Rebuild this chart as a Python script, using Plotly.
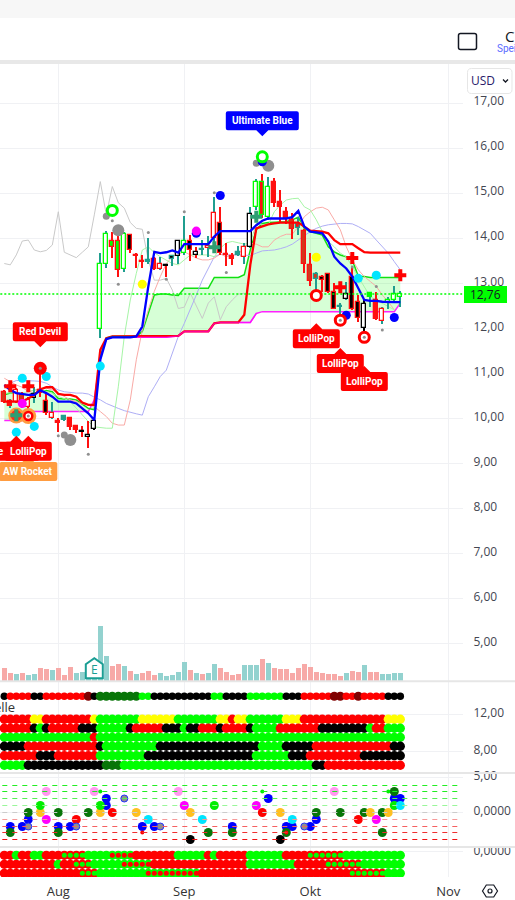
import plotly.graph_objects as go

# bars are numbered 0..66, month ticks fall on these bar numbers
month_ticks = [9, 30, 51, 74]
month_labels = ['Aug', 'Sep', 'Okt', 'Nov']
last_price = 12.76

highs = [10.63, 10.44, 10.67, 10.59, 10.48, 10.70, 11.22, 10.56, 10.37, 10.00, 10.07, 10.04, 9.85, 9.82, 9.93, 9.98,
         13.67, 14.17, 14.15, 14.07, 14.13, 14.10, 13.68, 13.63, 14.00, 13.58, 13.58, 13.44, 13.63, 13.96, 14.50, 14.07,
         13.81, 13.96, 14.04, 14.91, 14.69, 13.89, 13.67, 13.83, 13.89, 14.70, 15.31, 15.43, 15.36, 15.33, 15.07, 14.70,
         14.56, 14.48, 14.20, 13.67, 13.26, 13.19, 13.22, 13.00, 12.56, 13.04, 13.37, 12.74, 12.63, 12.81, 12.81, 12.48,
         12.70, 12.93, 12.84]
body_tops = [10.59, 10.39, 10.62, 10.52, 10.41, 10.54, 10.64, 10.39, 10.11, 9.94, 10.05, 10.00, 9.83, 9.71, 9.64, 9.93,
             13.42, 14.09, 13.93, 13.93, 14.10, 14.08, 13.62, 13.50, 13.51, 13.54, 13.42, 13.40, 13.61, 13.93, 13.93, 13.93,
             13.70, 13.76, 13.83, 14.57, 14.35, 13.65, 13.61, 13.70, 13.80, 14.53, 15.24, 15.26, 15.13, 15.24, 14.81, 14.59,
             14.41, 14.32, 14.16, 13.40, 13.20, 13.13, 13.20, 12.81, 12.50, 12.76, 13.13, 12.58, 12.53, 12.78, 12.64, 12.44,
             12.63, 12.76, 12.76]
body_bots = [10.37, 10.27, 10.37, 10.30, 10.26, 10.46, 10.56, 10.11, 10.00, 9.89, 9.96, 9.80, 9.74, 9.70, 9.58, 9.76,
             11.99, 13.44, 13.80, 13.30, 13.31, 13.74, 13.61, 13.48, 13.47, 13.31, 13.31, 13.39, 13.53, 13.61, 13.68, 13.74,
             13.64, 13.73, 13.78, 14.00, 13.67, 13.64, 13.55, 13.64, 13.59, 13.80, 14.70, 14.52, 14.47, 14.79, 14.69, 14.44,
             14.20, 14.22, 13.42, 13.06, 13.09, 13.07, 12.81, 12.44, 12.47, 12.66, 12.44, 12.22, 12.00, 12.69, 12.20, 12.17,
             12.56, 12.62, 12.70]
lows = [10.33, 10.22, 10.33, 10.22, 10.19, 10.33, 10.48, 10.07, 9.98, 9.70, 9.93, 9.73, 9.67, 9.59, 9.33, 9.74,
        11.78, 13.33, 13.56, 13.15, 13.26, 13.68, 13.33, 13.35, 13.44, 13.30, 13.30, 13.15, 13.39, 13.44, 13.63, 13.50,
        13.56, 13.63, 13.59, 13.89, 13.63, 13.39, 13.41, 13.61, 13.44, 13.78, 14.63, 14.44, 14.41, 14.70, 14.37, 14.32,
        13.98, 14.07, 13.22, 12.93, 12.85, 12.81, 12.79, 12.42, 12.30, 12.63, 12.41, 12.15, 11.93, 12.48, 12.18, 12.10,
        12.42, 12.56, 12.48]
# candle look, one letter per bar: t=teal r=red d=dark red k=black g=green w=white/hollow
candle_fill = "drwdwwrkwr" "trrkwwwwgg" "wkrrtrwkkw" "wkwtwwkrrt" "wwwrwrrrdr" "dddkkktwkk" "wgrwwww"
candle_edge = "rrrrrkrrrr" "trrkkkggrr" "grrrtrrktk" "grktrrrrrt" "rkgggrrrrt" "rrtrrrtkrr" "kgrrggg"
wick_color = "rtrrrtrrtr" "trrrrkttrr" "trrrtrtrtt" "trrtttrrrt" "tttrtrrrrt" "rrtrrrttrr" "ktrtttt"

volumes = [13, 8, 7, 8, 6, 7, 13, 12, 11, 13, 6, 14, 8, 9, 10, 14, 55, 25, 15, 17, 15, 10, 7, 8, 10, 6, 8, 5, 6, 9, 19,
           11, 8, 7, 8, 17, 13, 9, 6, 7, 16, 16, 16, 22, 18, 13, 12, 12, 8, 13, 17, 14, 9, 8, 7, 7, 5, 8, 10, 9, 16, 9,
           9, 7, 7, 8, 8]
volume_side = "rrtrttrrtr" "rrttttttrr" "trtrrrtttt" "trtrttrrrr" "ttt" "rtrrrrrrrrrrrrtrrtrrtttt"

blue_line = [10.74, 10.63, 10.56, 10.54, 10.52, 10.52, 10.62, 10.56, 10.48, 10.37, 10.37, 10.37, 10.33, 10.22, 10.11, 9.96,
             11.30, 11.76, 11.80, 11.80, 11.80, 11.80, 11.82, 12.04, 12.93, 13.70, 13.67, 13.69, 13.73, 13.68, 13.87, 13.87,
             13.87, 13.87, 13.87, 14.04, 14.16, 14.16, 14.16, 14.16, 14.16, 14.16, 14.29, 14.39, 14.44, 14.44, 14.44, 14.44,
             14.47, 14.61, 14.26, 14.15, 14.13, 14.11, 13.93, 13.59, 13.44, 13.33, 13.15, 12.89, 12.63, 12.61, 12.61, 12.59,
             12.58, 12.58, 12.58]
red_line = [10.37, 10.37, 10.37, 10.37, 10.44, 10.52, 10.64, 10.69, 10.69, 10.54, 10.52, 10.52, 10.48, 10.35, 10.30, 10.30,
            11.52, 11.78, 11.82, 11.82, 11.82, 11.82, 11.82, 11.82, 11.82, 11.82, 11.82, 11.82, 11.82, 11.83, 11.93, 11.93,
            11.93, 11.93, 11.93, 12.11, 12.13, 12.13, 12.13, 12.13, 12.30, 13.41, 14.22, 14.27, 14.31, 14.33, 14.35, 14.35,
            14.35, 14.35, 14.26, 14.17, 14.16, 14.15, 14.11, 13.96, 13.87, 13.87, 13.87, 13.78, 13.69, 13.68, 13.68, 13.68,
            13.68, 13.68, 13.68]
cloud_top = [10.52, 10.56, 10.56, 10.54, 10.52, 10.56, 10.59, 10.62, 10.59, 10.44, 10.43, 10.43, 10.41, 10.32, 10.22, 10.19,
             11.37, 11.78, 11.82, 11.82, 11.82, 11.82, 11.82, 11.93, 12.33, 12.74, 12.76, 12.76, 12.74, 12.73, 12.89, 12.89,
             12.89, 12.89, 12.89, 13.13, 13.13, 13.13, 13.13, 13.13, 13.19, 13.74, 14.19, 14.33, 14.35, 14.36, 14.37, 14.37,
             14.41, 14.47, 14.22, 14.15, 14.11, 14.07, 13.81, 13.70, 13.63, 13.59, 13.52, 13.15, 13.15, 13.13, 13.13, 13.13,
             13.13, 13.13, 13.13]
cloud_bot = [9.95, 9.95, 9.95, 9.95, 10.15, 10.15, 10.15, 10.15, 10.15, 10.15, 10.15, 10.15, 10.15, 10.15, 10.15, 10.41,
             11.37, 11.76, 11.80, 11.80, 11.80, 11.80, 11.80, 11.80, 11.80, 11.80, 11.80, 11.80, 11.82, 11.83, 11.93, 11.93,
             11.93, 11.93, 11.93, 12.11, 12.13, 12.13, 12.13, 12.13, 12.13, 12.13, 12.33, 12.37, 12.37, 12.37, 12.37, 12.37,
             12.37, 12.37, 12.37, 12.37, 12.37, 12.37, 12.37, 12.37, 12.37, 12.37, 12.37, 12.37, 12.37, 12.37, 12.37, 12.37,
             12.37, 12.37, 12.56]
pale_green = [10.56, 10.56, 10.56, 10.57, 10.59, 10.63, 10.63, 10.59, 10.56, 10.48, 10.44, 10.37, 10.22, 10.07, 9.93, 9.81,
              9.79, 9.78, 9.78, 10.70, 11.82, 12.63, 13.22, 13.74, 13.81, 13.68, 13.59, 13.52, 13.44, 13.41, 13.52, 13.63,
              13.63, 13.63, 13.63, 13.59, 13.78, 13.90, 13.93, 13.90, 13.87, 13.89, 14.33, 14.30, 14.30, 14.59, 14.74, 14.85,
              14.88, 14.89, 14.70, 14.63, 14.41, 14.15, 13.93, 13.81, 13.67, 13.59, 13.37, 13.15, 12.93, 12.70, 12.63, 12.56,
              12.48, 12.41]
pale_red = [10.89, 10.82, 10.74, 10.69, 10.59, 10.62, 10.67, 10.67, 10.63, 10.56, 10.48, 10.41, 10.37, 10.32, 10.30, 10.26,
            10.15, 10.04, 9.89, 9.85, 9.85, 10.41, 11.30, 11.96, 12.41, 12.82, 13.15, 13.44, 13.59, 13.65, 13.70, 13.63,
            13.56, 13.52, 13.52, 13.56, 13.65, 13.59, 13.63, 13.64, 13.81, 13.89, 13.87, 13.81, 13.81, 13.96, 14.04, 14.09,
            14.09, 14.26, 14.48, 14.59, 14.67, 14.69, 14.63, 14.41, 14.19, 13.81, 13.52, 13.30, 13.15, 13.04, 12.93, 12.74,
            12.59, 12.41]
pale_blue = [10.70, 10.78, 10.84, 10.84, 10.84, 10.83, 10.82, 10.78, 10.70, 10.63, 10.59, 10.57, 10.56, 10.56, 10.54, 10.47,
             10.41, 10.33, 10.27, 10.22, 10.17, 10.13, 10.10, 10.07, 10.48, 10.70, 10.93, 11.07, 11.44, 11.82, 12.11, 12.41,
             12.74, 13.07, 13.33, 13.59, 13.65, 13.63, 13.63, 13.63, 13.62, 13.62, 13.67, 13.72, 13.73, 13.74, 13.77, 13.81,
             13.87, 13.96, 14.07, 14.15, 14.22, 14.27, 14.30, 14.32, 14.33, 14.33, 14.32, 14.26, 14.19, 14.11, 13.96, 13.81,
             13.67, 13.48, 13.30]
grey_line = [13.44, 13.41, 13.63, 13.94, 13.96, 13.74, 13.70, 13.73, 13.85, 14.59, 13.69, 13.63, 13.57, 13.69, 13.81, 14.52,
             15.26, 14.52, 15.15, 14.79, 14.67, 14.35, 14.22, 14.20, 13.52, 13.07, 13.07, 13.11, 12.85, 12.44, 12.47, 12.78,
             12.48, 12.22, 12.56, 12.70, 12.19, 12.48, 12.63, 12.76, 12.78]

# signal marks on the price pane
cyan_x = [16, 3, 7, 2, 5, 59, 62]
cyan_y = [11.16, 10.89, 10.93, 9.69, 9.82, 13.11, 13.18]
yellow_x = [23, 52]
yellow_y = [12.98, 13.58]
blue_x = [36, 32, 43, 57, 65]
blue_y = [14.95, 14.11, 15.70, 12.29, 12.24]
magenta_x = [32, 3]
magenta_y = [14.16, 10.33]
cross_red_x = [1, 4, 58, 56, 66]
cross_red_y = [10.71, 10.71, 13.56, 12.91, 13.18]
cross_green_x = [35, 42, 2]
cross_green_y = [13.80, 14.48, 10.07]
orange_x = [2, 4]
orange_y = [10.06, 10.05]
green_ring_x = [18, 43]
green_ring_y = [14.62, 15.81]
red_ring_x = [52, 56, 60]
red_ring_y = [12.73, 12.18, 11.80]
small_ring_x = [4]
small_ring_y = [10.05]
red_dot_x = [2]
red_dot_y = [10.06]
red_big_x = [6]
red_big_y = [11.11]
grey_big_x = [19, 11, 44]
grey_big_y = [14.18, 9.52, 15.61]
grey_mid_x = [17, 10, 42]
grey_mid_y = [14.49, 9.63, 15.67]
grey_small_x = [18, 19, 24, 27, 30, 35, 37, 14, 9, 58, 62, 63, 6, 56, 60, 4]
grey_small_y = [14.39, 12.98, 14.13, 13.09, 14.59, 15.01, 13.24, 9.20, 9.61, 13.36, 12.93, 11.96, 11.11, 12.18, 11.80, 10.05]

# state rows under the price pane, one letter per bar
row_values = [11.46, 10.49, 9.51, 8.54, 7.52, 6.49]
top_row_value = 13.95
top_row = "k" + "rrrr" + "kk" + "r" * 7 + "D" + "k" + "G" * 7 + "gg" + "k" * 10 + "gg" + "kkkk" + "g" * 6 + "kkk" + "r" * 5 + "DD" + "rr" + "D" + "rrrr" + "kkk"
state_rows = [
    "r" * 5 + "yy" + "r" * 8 + "y" + "g" * 7 + "y" * 6 + "g" * 7 + "yy" + "r" + "yy" + "g" * 6 + "yyy" + "r" * 14 + "yyy",
    "r" * 5 + "k" + "g" + "k" + "r" * 5 + "kkk" + "g" * 5 + "k" + "r" * 5 + "kkk" + "g" + "kk" + "rrr" + "k" + "rrrr" + "k" + "gggg" + "r" * 7 + "k" * 8 + "g" + "rr" + "ggg",
    "g" * 15 + "r" + "g" * 51,
    "kkkk" + "r" * 12 + "k" + "g" * 9 + "k" * 17 + "gggg" + "kkkkk" + "r" * 13 + "kk",
    "r" * 6 + "kkk" + "r" * 7 + "g" * 8 + "k" * 18 + "g" * 6 + "kkk" + "r" * 9 + "k" * 7,
    "gggg" + "k" * 13 + "GGG" + "g" * 32 + "kk" + "r" * 13,
]
# bottom pane, a = small green on red, b = small red on green
bottom_values = [-0.40, -1.40, -2.40]
bottom_rows = [
    "rr" + "g" + "rr" + "gg" + "rrr" + "aaaa" + "gggg" + "bbbb" + "r" * 7 + "g" * 5 + "r" + "g" + "r" * 5 + "g" * 6 + "rrrr" + "a" * 6 + "g" * 10,
    "r" * 9 + "g" + "rr" + "aaa" + "g" * 5 + "b" * 5 + "r" * 16 + "g" * 8 + "r" * 5 + "a" * 6 + "g" * 7,
    "r" * 13 + "aaa" + "g" * 8 + "b" * 9 + "r" * 25 + "a" * 6 + "ggg",
]

# oscillator pane
levels = [3.857, 3, 2, 1, 0, -1, -2, -2.857, -3.857]
level_colors = ['#22ee22', '#22ee22', '#55f055', '#99f799', '#cccccc', '#f79999', '#f56060', '#f03030', '#f01010']
osc_blue_x = [1, 3, 4, 9, 11, 17, 17, 23, 25, 38, 44, 47, 48, 51, 52, 65, 66]
osc_blue_y = [-2, -2, -1, -2, -2, 2, 1, -2, -2, -2, 2, -2, -2, -2, -1, 2, 2]
osc_dkgreen_x = [1, 4, 9, 9, 14, 34, 38, 47, 52, 56, 60, 63, 63, 65]
osc_dkgreen_y = [-2.857, 0, 0, -2.857, 0, -2.857, -2.857, -2.857, 0, 0, 0, 0, -2.857, 3]
osc_gold_x = [6, 16, 22, 31, 46, 61, 64]
osc_gold_y = [0, 0, 0, 0, 0, 0, 0]
osc_green_x = [6, 16, 35, 65]
osc_green_y = [1, 1, 1, 1]
osc_pink_x = [7, 15, 29, 55]
osc_pink_y = [3, 3, 3, 3]
osc_magenta_x = [7, 30, 42, 62]
osc_magenta_y = [-1, 1, 1, -1]
osc_red_x = [12, 18, 43, 59]
osc_red_y = [-1, 0, 0, -1]
osc_cyan_x = [24, 33, 48, 66]
osc_cyan_y = [-1, -1, -1, 1]
osc_black_x = [31, 46]
osc_black_y = [-3.857, -3.857]
osc_grey_x = [4, 12, 20, 26, 50]
osc_grey_y = [-2, -2, 2, -2, -2]
osc_small_green_x = [16, 43, 64]
osc_small_green_y = [3, 3, 3]
osc_small_red_x = [23, 47]
osc_small_red_y = [-2.857, -2.857]

# pixel layout of the page
W, H = 515, 900
PLOT_RIGHT = 462.5
X0, BAR = 4.3, 6.0


def paper_x(px):
    return px / W


def paper_y(py):
    return 1 - py / H


def pt(px, py):
    return f"{paper_x(px):.5f},{paper_y(py):.5f}"


def dom(top, bottom):
    return [paper_y(bottom), paper_y(top)]


bars = list(range(67))
TEAL, RED, GREEN = '#1f9e8f', '#ff1010', '#00ff00'
candle_colors = {'r': RED, 'd': '#cf3a1c', 't': TEAL, 'k': '#000000', 'g': GREEN, 'w': '#ffffff'}
state_colors = {'r': '#ff0000', 'g': '#00ff00', 'k': '#000000', 'y': '#ffff00', 'D': '#800000', 'G': '#087508',
                'a': '#ff0000', 'b': '#00ff00'}

fig = go.Figure()

# base layer of the price pane: cloud and thin lines
fig.add_trace(go.Scatter(x=bars, y=cloud_bot, mode='lines', line=dict(color='#ff22ff', width=1.5), yaxis='y'))
fig.add_trace(go.Scatter(x=bars, y=cloud_top, mode='lines', line=dict(color='#11e011', width=1.5),
                         fill='tonexty', fillcolor='rgba(0,255,0,0.16)', yaxis='y'))
for vals, col in [(grey_line, '#c9c9c9'), (pale_blue, '#aeaef5'), (pale_red, '#f9aaa6'), (pale_green, '#a6f5a6')]:
    fig.add_trace(go.Scatter(x=bars[:len(vals)], y=vals, mode='lines', line=dict(color=col, width=1), yaxis='y'))

# volume
fig.add_trace(go.Bar(x=bars, y=volumes, width=0.83, yaxis='y2',
                     marker=dict(color=['#f7a9a7' if s == 'r' else '#93d2cf' for s in volume_side], line_width=0)))

# candles are drawn as bars so every body can have its own fill and edge
fig.add_trace(go.Bar(x=bars, y=[h - l for h, l in zip(highs, lows)], base=lows, width=0.17, yaxis='y6',
                     marker=dict(color=[candle_colors[c] for c in wick_color], line_width=0)))
fig.add_trace(go.Bar(x=bars, y=[t - b for t, b in zip(body_tops, body_bots)], base=body_bots, width=0.68, yaxis='y6',
                     marker=dict(color=[candle_colors[c] for c in candle_fill],
                                 line=dict(color=[candle_colors[c] for c in candle_edge], width=1.3))))

# thick lines and marks go above the candles
fig.add_trace(go.Scatter(x=bars, y=red_line, mode='lines', line=dict(color='#ff0000', width=2.3), yaxis='y7'))
fig.add_trace(go.Scatter(x=bars[16:43], y=cloud_bot[16:43], mode='lines', line=dict(color='#ff00ff', width=1.5),
                         opacity=0.6, yaxis='y7'))
fig.add_trace(go.Scatter(x=bars[16:23], y=cloud_top[16:23], mode='lines', line=dict(color='#00aa00', width=1),
                         opacity=0.7, yaxis='y7'))
fig.add_trace(go.Scatter(x=bars, y=blue_line, mode='lines', line=dict(color='#0000ff', width=2.3), yaxis='y7'))
fig.add_trace(go.Scatter(x=[-2, 78], y=[last_price, last_price], mode='lines',
                         line=dict(color=GREEN, width=1.5, dash='2px,2px'), yaxis='y7'))


def marks(xs, ys, color, size, symbol='circle', line_color=None, line_width=0, yaxis='y7'):
    fig.add_trace(go.Scatter(x=xs, y=ys, mode='markers', yaxis=yaxis,
                             marker=dict(color=color, size=size, symbol=symbol, opacity=1,
                                         line=dict(color=line_color or color, width=line_width))))


marks(grey_big_x, grey_big_y, '#8f8f8f', 12)
marks(grey_mid_x, grey_mid_y, '#8f8f8f', 7)
marks(orange_x, orange_y, '#ff9c40', 16)
marks(cyan_x, cyan_y, '#00e5ff', 9)
marks(yellow_x, yellow_y, '#ffff00', 9)
marks(blue_x, blue_y, '#0000ff', 9)
marks(magenta_x, magenta_y, '#ff00ff', 9)
marks(red_big_x, red_big_y, '#ff0000', 13)
marks(green_ring_x, green_ring_y, '#ffffff', 10, line_color='#00ff00', line_width=3)
marks(red_ring_x, red_ring_y, '#ffffff', 10, line_color='#ff0000', line_width=3)
marks(small_ring_x, small_ring_y, '#ffffff', 8, line_color='#ff0000', line_width=2.5)
marks(red_dot_x, red_dot_y, '#ff2a1a', 11)
marks(cross_red_x, cross_red_y, '#ff0000', 10, symbol='cross')
marks(cross_green_x, cross_green_y, '#2e9e72', 10, symbol='cross')
marks(grey_small_x, grey_small_y, '#8f8f8f', 3)

# state rows
top_sizes = [9 if c in 'DG' else 7.5 for c in top_row]
fig.add_trace(go.Scatter(x=bars, y=[top_row_value] * len(top_row), mode='markers', yaxis='y3',
                         marker=dict(color=[state_colors[c] for c in top_row], size=top_sizes, opacity=1, line_width=0)))
for row, val in zip(state_rows, row_values):
    fig.add_trace(go.Scatter(x=bars, y=[val] * len(row), mode='markers', yaxis='y3',
                             marker=dict(color=[state_colors[c] for c in row], size=9.3, opacity=1, line_width=0)))

# bottom rows
for row, val in zip(bottom_rows, bottom_values):
    fig.add_trace(go.Scatter(x=bars, y=[val] * len(row), mode='markers', yaxis='y5',
                             marker=dict(color=[state_colors[c] for c in row], size=9.3, opacity=1, line_width=0)))
    small = [i for i, c in enumerate(row) if c in 'ab']
    fig.add_trace(go.Scatter(x=small, y=[val] * len(small), mode='markers', yaxis='y5',
                             marker=dict(color=['#00ff00' if row[i] == 'a' else '#ff0000' for i in small], size=5,
                                         opacity=1, line_width=0)))

# oscillator dots, the dashed levels run over them
marks(osc_blue_x, osc_blue_y, '#0000ff', 9, yaxis='y4')
marks(osc_dkgreen_x, osc_dkgreen_y, '#087508', 9, yaxis='y4')
marks(osc_gold_x, osc_gold_y, '#ffc020', 9, yaxis='y4')
marks(osc_green_x, osc_green_y, '#00ee00', 9, yaxis='y4')
marks(osc_pink_x, osc_pink_y, '#ff99ee', 9, yaxis='y4')
marks(osc_magenta_x, osc_magenta_y, '#ff00ff', 9, yaxis='y4')
marks(osc_red_x, osc_red_y, '#ff0000', 9, yaxis='y4')
marks(osc_cyan_x, osc_cyan_y, '#00e5ff', 9, yaxis='y4')
marks(osc_black_x, osc_black_y, '#000000', 9, yaxis='y4')
marks(osc_grey_x, osc_grey_y, '#8f8f8f', 7, line_color='#2030ff', line_width=1, yaxis='y4')
marks(osc_small_green_x, osc_small_green_y, '#00ee00', 4, yaxis='y4')
marks(osc_small_red_x, osc_small_red_y, '#ff0000', 4, yaxis='y4')
for lev, col in zip(levels, level_colors):
    fig.add_trace(go.Scatter(x=[-2, 75.6], y=[lev, lev], mode='lines', yaxis='y4',
                             line=dict(color=col, width=1, dash='5px,5px')))

shapes = []
annotations = []


def callout(bar, price, text, color, w, h=19, tip=6, above=False):
    # label box with a small tip, tip sits on (bar, price), sizes are in pixels
    s = 1 if above else -1
    r = 2
    hw = w / 2
    t, b = s * tip, s * (tip + h)
    path = (f"M 0 0 L 6 {t} L {hw - r} {t} Q {hw} {t} {hw} {t + s * r} L {hw} {b - s * r} Q {hw} {b} {hw - r} {b} "
            f"L {-hw + r} {b} Q {-hw} {b} {-hw} {b - s * r} L {-hw} {t + s * r} Q {-hw} {t} {-hw + r} {t} L -6 {t} Z")
    shapes.append(dict(type='path', xref='x', yref='y', xsizemode='pixel', ysizemode='pixel', xanchor=bar,
                       yanchor=price, path=path, fillcolor=color, line_width=0, layer='above'))
    if text:
        annotations.append(dict(x=bar, y=price, xref='x', yref='y', text=f"<b>{text}</b>", showarrow=False,
                                yshift=s * (tip + h / 2), font=dict(color='white', size=10, family='Roboto')))


callout(43, 16.27, 'Ultimate Blue', '#0000ff', 73, above=True)
callout(6, 11.58, 'Red Devil', '#ff0000', 55, above=True)
callout(4, 9.16, 'AW Rocket', '#ff9c40', 58)
callout(2, 9.61, '', '#ff0000', 46)
callout(4, 9.61, 'LolliPop', '#ff0000', 47)
callout(52, 12.11, 'LolliPop', '#ff0000', 47)
callout(56, 11.56, 'LolliPop', '#ff0000', 47)
callout(60, 11.16, 'LolliPop', '#ff0000', 47)
annotations.append(dict(x=paper_x(5.5), y=paper_y(451.5), xref='paper', yref='paper', xanchor='right', showarrow=False,
                        text='<b>le</b>', font=dict(color='white', size=10, family='Roboto')))


def page_text(text, px, py, size, color, anchor='left', family='Open Sans'):
    annotations.append(dict(x=paper_x(px), y=paper_y(py), xref='paper', yref='paper', xanchor=anchor, yanchor='middle',
                            text=text, showarrow=False, font=dict(size=size, color=color, family=family),
                            borderpad=0))


def rounded(x0, y0, x1, y1, r):
    return (f"M {pt(x0 + r, y0)} L {pt(x1 - r, y0)} Q {pt(x1, y0)} {pt(x1, y0 + r)} L {pt(x1, y1 - r)} "
            f"Q {pt(x1, y1)} {pt(x1 - r, y1)} L {pt(x0 + r, y1)} Q {pt(x0, y1)} {pt(x0, y1 - r)} "
            f"L {pt(x0, y0 + r)} Q {pt(x0, y0)} {pt(x0 + r, y0)} Z")


def paper_rect(x0, y0, x1, y1, color):
    shapes.append(dict(type='rect', xref='paper', yref='paper', x0=paper_x(x0), x1=paper_x(x1), y0=paper_y(y0),
                       y1=paper_y(y1), fillcolor=color, line_width=0, layer='above'))


def paper_path(path, color, width, fill=None):
    shapes.append(dict(type='path', xref='paper', yref='paper', path=path, line=dict(color=color, width=width),
                       fillcolor=fill or 'rgba(0,0,0,0)', layer='above'))


# header strip of the page
paper_rect(0, 0, W, 18, '#f7f7f7')
paper_rect(0, 60, W, 64, '#e8e8e8')
paper_path(rounded(458.5, 33.5, 476.5, 49.5, 2), '#131722', 1.5)
page_text("C<span style='color:#e08a00'>r</span>", 504, 36, 15, '#131722')
page_text('Spei', 496, 48, 10, '#5a6bff', family='Roboto')
paper_path(rounded(467.5, 68.5, 512, 93.5, 4), '#e6e6e6', 1)
page_text("USD", 470, 81, 12, '#2a1a6a')
paper_path(f"M {pt(503, 79.5)} L {pt(505.5, 82)} L {pt(508, 79.5)}", '#131722', 1.3)

# pane separators
for sep in [681.3, 773, 847]:
    paper_rect(0, sep - 1, W, sep + 1, '#e6e6e6')

# last price tag
paper_rect(464, 286, 507, 303, GREEN)
page_text('12,76', 485.5, 294.5, 12, '#131722', anchor='center')

# earnings flag sitting on the volume bars
shapes.append(dict(type='path', xref='x', yref='y2', xsizemode='pixel', ysizemode='pixel', xanchor=15, yanchor=0,
                   path="M -8.5 3 L 8.5 3 L 8.5 17 L 0 23 L -8.5 17 Z", fillcolor='#ffffff',
                   line=dict(color='#1a9e94', width=2), layer='above'))
annotations.append(dict(x=15, y=0, xref='x', yref='y2', yshift=12, text='E', showarrow=False,
                        font=dict(size=12, color='#1a9e94', family='Open Sans')))

page_text('elle', 15.5, 707, 13, '#333333', anchor='right')

# settings icon next to the time axis
paper_path(f"M {pt(482.5, 891)} L {pt(486.3, 885)} L {pt(493.7, 885)} L {pt(497.5, 891)} L {pt(493.7, 897)} L {pt(486.3, 897)} Z",
           '#131722', 1.2)
shapes.append(dict(type='circle', xref='paper', yref='paper', x0=paper_x(488), x1=paper_x(492), y0=paper_y(889),
                   y1=paper_y(893), line=dict(color='#131722', width=1.2), layer='above'))

GRID = '#f0f1f4'
tick_font = dict(family='Open Sans', size=12, color='#434651')


def price_axis(top, bottom, rng, vals, text, shift=-2):
    return dict(domain=dom(top, bottom), range=rng, side='right', anchor='x', tickvals=vals, ticktext=text,
                showgrid=True, gridcolor=GRID, gridwidth=1, zeroline=False, showline=False, ticks='',
                ticklabelstandoff=10, ticklabelshift=shift, tickfont=tick_font, fixedrange=True)


price_ticks = list(range(5, 18))
price_range = [4.156, 17.873]
overlay = dict(overlaying='y', range=price_range, visible=False, anchor='x', fixedrange=True)

fig.update_layout(
    width=W, height=H, margin=dict(l=0, r=0, t=0, b=0, autoexpand=False), autosize=False,
    paper_bgcolor='white', plot_bgcolor='white', showlegend=False, hovermode=False, barmode='overlay',
    bargap=0,
    xaxis=dict(domain=[0, PLOT_RIGHT / W], range=[-X0 / BAR, (PLOT_RIGHT - X0) / BAR], anchor='y5', tickvals=month_ticks,
               ticktext=month_labels, showgrid=True, gridcolor=GRID, zeroline=False, showline=False, ticks='',
               ticklabelstandoff=5, tickfont=dict(family='Open Sans', size=13, color='#333333'), fixedrange=True),
    yaxis=price_axis(64, 681.3, price_range, price_ticks, [f"{p},00" for p in price_ticks]),
    yaxis2=dict(overlaying='y', range=[0, 617.3], visible=False, anchor='x', fixedrange=True),
    yaxis3=price_axis(682, 773, [5.65, 15.49], [12, 8], ['12,00', '8,00'], shift=-1),
    yaxis4=price_axis(774, 847, [-4.929, 5.5], [5, 0], ['5,00', '0,0000']),
    yaxis5=price_axis(847, 877, [-2.81, 0.52], [0], ['0,0000'], shift=-1),
    yaxis6=overlay,
    yaxis7=overlay,
    shapes=shapes,
    annotations=annotations,
)

fig.write_html("out.html", config=dict(displayModeBar=False),
               post_script="document.body.style.margin='0';")
